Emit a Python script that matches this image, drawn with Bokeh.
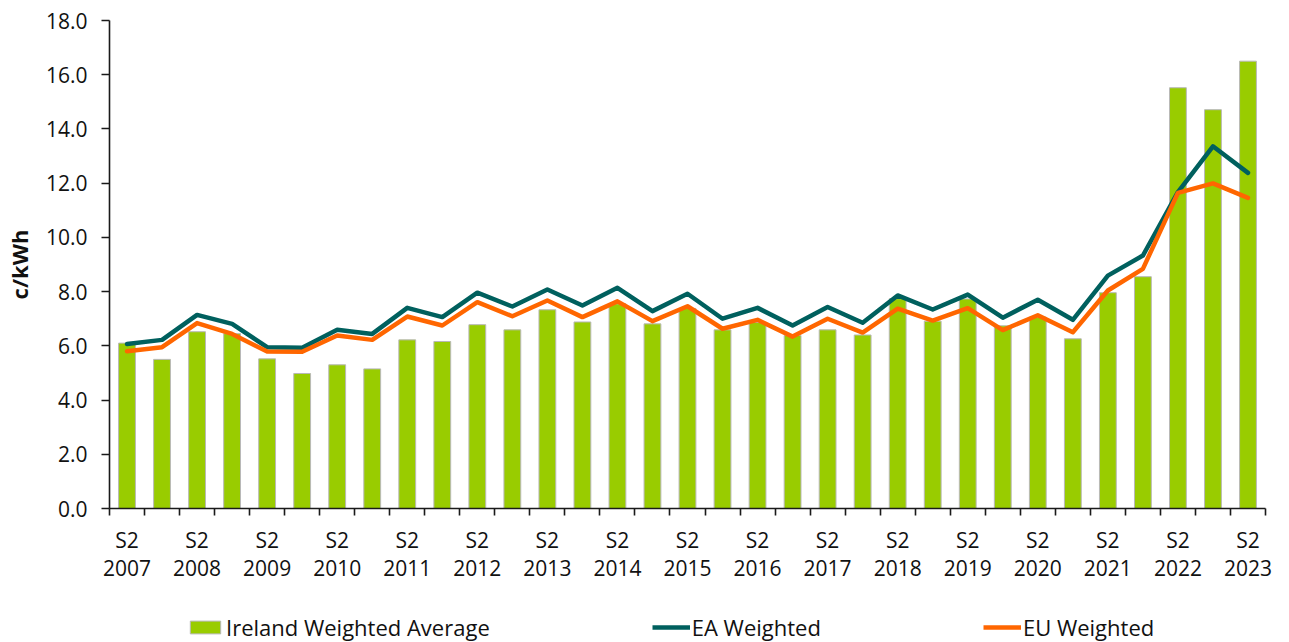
from bokeh.plotting import figure
from bokeh.layouts import column
from bokeh.models import (ColumnDataSource, Range1d, FixedTicker, LinearAxis,
                          Legend, LegendItem, PrintfTickFormatter)
from bokeh.embed import file_html
from bokeh.resources import INLINE

periods = ["S2 2007",
           "S1 2008", "S2 2008", "S1 2009", "S2 2009", "S1 2010", "S2 2010",
           "S1 2011", "S2 2011", "S1 2012", "S2 2012", "S1 2013", "S2 2013",
           "S1 2014", "S2 2014", "S1 2015", "S2 2015", "S1 2016", "S2 2016",
           "S1 2017", "S2 2017", "S1 2018", "S2 2018", "S1 2019", "S2 2019",
           "S1 2020", "S2 2020", "S1 2021", "S2 2021", "S1 2022", "S2 2022",
           "S1 2023", "S2 2023"]

ireland = [6.10, 5.50, 6.52, 6.45, 5.52, 4.98, 5.30, 5.15, 6.22, 6.16, 6.78,
           6.59, 7.33, 6.88, 7.55, 6.81, 7.38, 6.59, 6.86, 6.38, 6.59, 6.40,
           7.74, 6.91, 7.73, 6.74, 7.06, 6.26, 7.96, 8.55, 15.52, 14.71, 16.50]

ea = [6.07, 6.22, 7.14, 6.81, 5.95, 5.93, 6.59, 6.44, 7.40, 7.06, 7.96,
      7.45, 8.08, 7.49, 8.14, 7.28, 7.92, 7.00, 7.40, 6.75, 7.43, 6.85,
      7.86, 7.34, 7.89, 7.04, 7.70, 6.96, 8.59, 9.33, 11.67, 13.36, 12.38]

eu = [5.80, 5.95, 6.84, 6.44, 5.79, 5.78, 6.38, 6.22, 7.08, 6.75, 7.61,
      7.09, 7.67, 7.06, 7.64, 6.91, 7.46, 6.63, 6.96, 6.34, 7.00, 6.49,
      7.37, 6.93, 7.39, 6.58, 7.13, 6.50, 8.04, 8.84, 11.64, 11.99, 11.46]

y_ticks = [0, 2, 4, 6, 8, 10, 12, 14, 16, 18]
series_names = ["Ireland Weighted Average", "EA Weighted", "EU Weighted"]

FONT = "Open Sans"
TXT = "#111111"
C_IE, C_EA, C_EU = "#99CC00", "#00605E", "#FF6600"

x = list(range(len(periods)))
src = ColumnDataSource(dict(x=x, period=periods, ireland=ireland, ea=ea, eu=eu))

p = figure(width=1273, height=606,
           x_range=Range1d(-0.5, len(periods) - 0.5), y_range=Range1d(0, 18),
           min_border_left=100, min_border_right=8, min_border_top=20,
           min_border_bottom=98,
           output_backend="svg", toolbar_location=None)
p.outline_line_color = None
p.xgrid.visible = False
p.ygrid.visible = False

bars = p.vbar(x="x", top="ireland", width=0.48, source=src,
              fill_color=C_IE, line_color="#b8b8b8", line_width=1)
l_ea = p.line(x="x", y="ea", source=src, line_color=C_EA, line_width=4.5,
              line_join="round", line_cap="round")
l_eu = p.line(x="x", y="eu", source=src, line_color=C_EU, line_width=4.5,
              line_join="round", line_cap="round")

# y axis
ya = p.yaxis[0]
ya.ticker = FixedTicker(ticks=y_ticks)
ya.formatter = PrintfTickFormatter(format="%.1f")
ya.axis_label = "c/kWh"
ya.axis_label_text_font = FONT
ya.axis_label_text_font_style = "bold"
ya.axis_label_text_font_size = "22px"
ya.axis_label_text_color = TXT
ya.axis_label_standoff = 9
ya.major_label_text_font = FONT
ya.major_label_text_font_size = "21px"
ya.major_label_text_color = TXT
ya.major_label_standoff = 14
ya.major_tick_out = 8
ya.major_tick_in = 0
ya.minor_tick_out = 0
ya.minor_tick_in = 0
ya.axis_line_color = "#1a1a1a"
ya.axis_line_width = 1.6
ya.major_tick_line_color = "#1a1a1a"
ya.major_tick_line_width = 1.6

# x axis: tick marks between categories, "S2" labels under S2 bars
label_pos = [i for i, s in enumerate(periods) if s.startswith("S2")]
bounds = [i - 0.5 for i in range(len(periods) + 1)]
xa = p.xaxis[0]
xa.ticker = FixedTicker(ticks=label_pos, minor_ticks=bounds)
xa.major_label_overrides = {i: periods[i].split()[0] for i in label_pos}
xa.major_tick_out = 0
xa.major_tick_in = 0
xa.minor_tick_out = 7
xa.minor_tick_in = 0
xa.minor_tick_line_color = "#1a1a1a"
xa.minor_tick_line_width = 1.6
xa.axis_line_color = "#1a1a1a"
xa.axis_line_width = 1.6
xa.major_label_standoff = 10
xa.major_label_text_font = FONT
xa.major_label_text_font_size = "21px"
xa.major_label_text_color = TXT

# second row of x labels: years
xa2 = LinearAxis(ticker=FixedTicker(ticks=label_pos))
xa2.major_label_overrides = {i: periods[i].split()[1] for i in label_pos}
xa2.axis_line_color = None
xa2.major_tick_line_color = None
xa2.minor_tick_line_color = None
xa2.major_tick_out = 0
xa2.major_tick_in = 0
xa2.minor_tick_out = 0
xa2.minor_tick_in = 0
xa2.major_label_standoff = 3
xa2.major_label_text_font = FONT
xa2.major_label_text_font_size = "21px"
xa2.major_label_text_color = TXT
p.add_layout(xa2, "below")

# legend strip below the chart (its frame is aligned with the chart frame);
# the series are drawn here with ranges that keep them out of view, so only
# the legend swatches show
pl = figure(width=1273, height=36, x_range=Range1d(1000, 1001),
            y_range=Range1d(1000, 1001),
            min_border_left=0, min_border_right=0, min_border_top=0,
            min_border_bottom=0, x_axis_type=None, y_axis_type=None,
            output_backend="svg", toolbar_location=None)
pl.outline_line_color = None
pl.xgrid.visible = False
pl.ygrid.visible = False
g_ie = pl.vbar(x="x", top="ireland", width=0.48, source=src, fill_color=C_IE,
               line_color="#b8b8b8", line_width=1)
g_ea = pl.line(x="x", y="ea", source=src, line_color=C_EA, line_width=4.5)
g_eu = pl.line(x="x", y="eu", source=src, line_color=C_EU, line_width=4.5)

legend = Legend(items=[LegendItem(label=series_names[0], renderers=[g_ie]),
                       LegendItem(label=series_names[1], renderers=[g_ea]),
                       LegendItem(label=series_names[2], renderers=[g_eu])],
                location=(77, 0), orientation="horizontal",
                spacing=162, glyph_width=38, glyph_height=16, label_standoff=2,
                padding=0, margin=0, border_line_alpha=0,
                background_fill_alpha=0,
                label_text_font=FONT, label_text_font_size="22px",
                label_text_color=TXT)
pl.add_layout(legend)

layout = column(p, pl, spacing=0)
open("out.html", "w").write(file_html(layout, INLINE))
